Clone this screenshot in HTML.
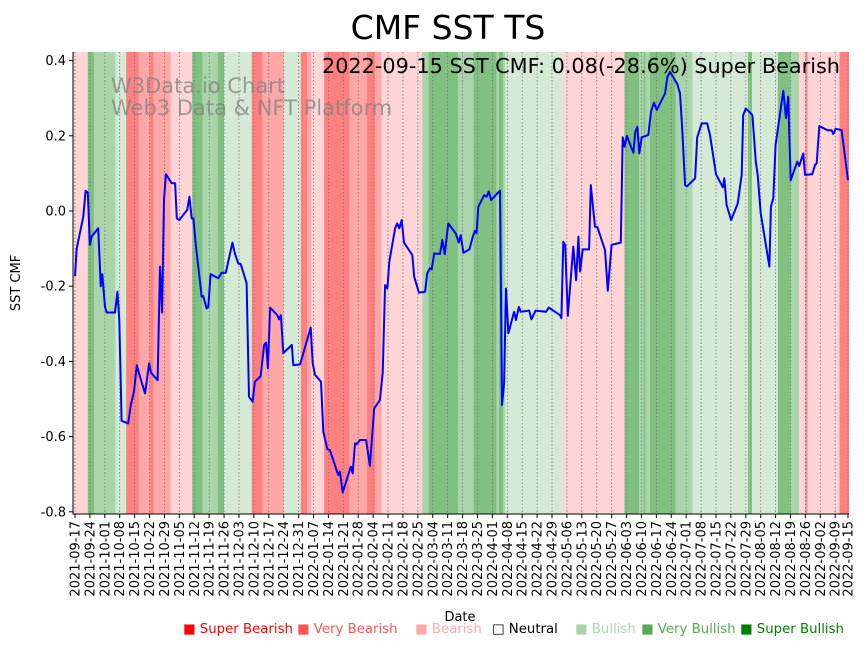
<!DOCTYPE html>
<html><head><meta charset="utf-8">
<style>
body{margin:0;background:#fff;}
svg text{font-family:"DejaVu Sans","Liberation Sans",sans-serif;}
</style></head>
<body>
<svg id="chart" width="867" height="646" viewBox="0 0 867 646" xmlns="http://www.w3.org/2000/svg">
<g id="bands"></g>
<g id="grid"></g>
<g id="line"></g>
<g id="axes"></g>
<text x="448" y="39" font-size="33" text-anchor="middle">CMF SST TS</text>
<text x="840" y="73" font-size="20.8" text-anchor="end">2022-09-15 SST CMF: 0.08(-28.6%) Super Bearish</text>
<text x="111" y="93" font-size="21" fill="#808080" fill-opacity="0.75">W3Data.io Chart</text>
<text x="111" y="115" font-size="21" fill="#808080" fill-opacity="0.75">Web3 Data &amp; NFT Platform</text>
<text x="460" y="621" font-size="13" text-anchor="middle">Date</text>
<text x="20" y="283" font-size="13" text-anchor="middle" transform="rotate(-90 20 283)">SST CMF</text>
<g font-size="13.3">
<text x="183" y="633" fill="#ff0000">■ Super Bearish</text>
<text x="297" y="633" fill="#ff5555">■ Very Bearish</text>
<text x="415" y="633" fill="#ffaaaa">■ Bearish</text>
<text x="492" y="633" fill="#000">□ Neutral</text>
<text x="575" y="633" fill="#aad5aa">■ Bullish</text>
<text x="641" y="633" fill="#55aa55">■ Very Bullish</text>
<text x="740" y="633" fill="#008000">■ Super Bullish</text>
</g>
</svg>
<script>
// band boundaries (day offsets from 2021-09-17) and signal levels (-3..3)
const bandStarts = [-1,6,9,19,24,30,35,37,45,55,60,67,70,83,88,98,106,109,111,117,129,137,141,144,163,166,180,187,198,199,201,202,229,258,265,267,268,270,282,290,316,318,330,336,340,343,344,359];
const bandLevels = [-1,3,2,1,-3,-2,-3,-2,-1,3,2,3,1,-3,-2,1,-3,-2,-1,-3,-2,-3,-2,-1,2,3,2,3,2,3,2,1,-1,3,2,3,2,3,2,1,3,1,3,2,-1,-3,-1,-3];
const bandEnd = 363.5;
// series: day offsets and CMF values
const days = [0,0.8,3.9,5.0,6.0,7.0,7.8,10.9,12.1,12.8,14.1,14.9,18.8,19.9,20.8,21.9,25.0,26.2,27.7,29.0,31.0,32.9,34.8,35.7,38.8,39.9,40.9,41.8,42.7,45.4,47.0,47.8,49.0,52.7,53.7,54.8,55.6,56.8,59.5,60.2,61.8,62.6,63.7,67.3,68.9,70.8,73.9,75.1,76.7,77.8,80.6,81.7,83.4,84.5,87.2,88.8,89.7,90.6,91.6,95.0,95.8,96.7,97.8,101.8,102.5,105.7,110.7,111.6,112.7,115.5,116.6,118.5,119.7,123.6,124.4,125.7,129.5,130.4,131.5,132.3,133.8,136.7,138.5,140.5,143.2,144.5,145.6,146.7,147.6,150.3,151.3,152.3,153.4,154.5,158.4,159.3,161.5,164.4,165.4,166.7,167.5,168.7,171.4,172.5,173.6,175.3,178.9,180.2,181.1,182.4,185.2,186.8,187.8,188.6,189.4,192.1,193.3,194.3,195.4,199.6,200.5,201.5,202.4,203.5,206.2,207.1,208.4,209.3,213.3,214.3,216.3,221.2,222.5,227.8,228.4,229.3,230.2,231.4,234.0,235.3,236.4,237.2,238.4,241.4,242.2,244.2,245.3,248.9,250.2,252.0,256.3,257.2,258.1,259.1,262.2,263.1,264.1,265.0,266.1,269.2,270.5,271.9,273.2,277.1,278.2,279.4,282.8,284.1,285.2,286.5,287.5,291.2,292.2,294.3,296.9,298.2,301.0,304.2,304.9,306.0,308.1,311.2,313.1,313.8,315.0,318.1,319.7,320.6,322.0,326.1,326.8,327.9,329.0,332.6,333.9,334.9,336.1,339.2,340.1,342.0,342.8,346.2,347.5,348.3,349.5,353.3,355.3,356.1,357.2,360.0,360.8,363];
const values = [-0.173,-0.10,-0.015,0.054,0.049,-0.09,-0.068,-0.046,-0.20,-0.168,-0.255,-0.27,-0.27,-0.215,-0.29,-0.558,-0.565,-0.516,-0.48,-0.41,-0.45,-0.485,-0.405,-0.43,-0.45,-0.148,-0.27,0.03,0.098,0.074,0.074,-0.02,-0.024,0.003,0.038,-0.02,-0.02,-0.095,-0.228,-0.226,-0.259,-0.255,-0.168,-0.179,-0.164,-0.164,-0.084,-0.113,-0.14,-0.141,-0.192,-0.494,-0.507,-0.454,-0.439,-0.356,-0.35,-0.418,-0.257,-0.277,-0.288,-0.277,-0.378,-0.356,-0.41,-0.408,-0.31,-0.405,-0.436,-0.454,-0.587,-0.633,-0.636,-0.702,-0.693,-0.749,-0.68,-0.698,-0.618,-0.62,-0.609,-0.609,-0.678,-0.525,-0.503,-0.432,-0.197,-0.206,-0.135,-0.046,-0.033,-0.046,-0.024,-0.084,-0.117,-0.175,-0.217,-0.215,-0.166,-0.152,-0.155,-0.113,-0.114,-0.077,-0.115,-0.033,-0.061,-0.084,-0.064,-0.111,-0.102,-0.068,-0.053,-0.059,0.011,0.042,0.038,0.052,0.029,0.054,-0.516,-0.458,-0.206,-0.325,-0.268,-0.29,-0.255,-0.268,-0.265,-0.288,-0.265,-0.268,-0.257,-0.277,-0.285,-0.082,-0.09,-0.279,-0.095,-0.184,-0.068,-0.161,-0.102,-0.102,0.069,-0.042,-0.043,-0.104,-0.212,-0.09,-0.084,0.196,0.171,0.2,0.155,0.211,0.224,0.153,0.196,0.202,0.264,0.288,0.269,0.313,0.357,0.37,0.338,0.313,0.215,0.069,0.066,0.087,0.196,0.233,0.233,0.202,0.098,0.063,0.087,0.016,-0.024,0.02,0.096,0.255,0.273,0.255,0.131,0.096,-0.006,-0.148,0.011,0.034,0.176,0.32,0.247,0.304,0.082,0.131,0.12,0.153,0.096,0.098,0.122,0.127,0.226,0.215,0.215,0.205,0.219,0.215,0.18,0.082];
const yTicks = [0.4,0.2,0.0,-0.2,-0.4,-0.6,-0.8];
const xTickDays = [0,7,14,21,28,35,42,49,56,63,70,77,84,91,98,105,112,119,126,133,140,147,154,161,168,175,182,189,196,203,210,217,224,231,238,245,252,259,266,273,280,287,294,301,308,315,322,329,336,343,350,357,363];

const NS='http://www.w3.org/2000/svg';
const X0=73, X1=849, Y0=52, Y1=514;
const xs = d => 75 + d*2.1295;
const ys = v => 211 - v*376;
function mk(tag, attrs, parent){const e=document.createElementNS(NS,tag);for(const k in attrs)e.setAttribute(k,attrs[k]);parent.appendChild(e);return e;}
const colors={'-3':'#ff8080','-2':'#ffa6a6','-1':'#ffd5d5','0':'#ffffff','1':'#d5ead5','2':'#aad5aa','3':'#80c080'};
const gB=document.getElementById('bands');
for(let i=0;i<bandStarts.length;i++){
  const a=Math.max(X0,xs(bandStarts[i])), b=Math.min(X1,xs(i+1<bandStarts.length?bandStarts[i+1]:bandEnd));
  const r=mk('rect',{x:a,y:Y0,width:Math.max(0,b-a),height:Y1-Y0,fill:colors[bandLevels[i]]},gB);
  
  
}
const gG=document.getElementById('grid'), gA=document.getElementById('axes');
const start=new Date(Date.UTC(2021,8,17));
xTickDays.forEach(d=>{
  const x=xs(d);
  const l=mk('line',{x1:x,x2:x,y1:Y0,y2:Y1,stroke:'#777','stroke-width':0.8,'stroke-dasharray':'1.5,2'},gG);
  
  
  mk('line',{x1:x,x2:x,y1:Y1,y2:Y1+4,stroke:'#000','stroke-width':1},gA);
  const dt=new Date(start.getTime()+d*86400000);
  const s=dt.toISOString().slice(0,10);
  const t=mk('text',{x:0,y:0,'font-size':13,'text-anchor':'end',transform:`translate(${x+4.5},${Y1+7}) rotate(-90)`},gA);
  
  
  t.textContent=s;
});
yTicks.forEach(v=>{
  const y=ys(v);
  mk('line',{x1:X0-4,x2:X0,y1:y,y2:y,stroke:'#000','stroke-width':1},gA);
  const t=mk('text',{x:X0-7,y:y+4.5,'font-size':13,'text-anchor':'end'},gA);
  
  
  t.textContent=v.toFixed(1);
});
const ax=mk('path',{d:`M${X0},${Y0}V${Y1}H${X1}`,fill:'none',stroke:'#000','stroke-width':1},gA);


const pts=days.map((d,i)=>xs(d).toFixed(1)+','+ys(values[i]).toFixed(1)).join(' ');
const pl=mk('polyline',{points:pts,fill:'none',stroke:'#0000ff','stroke-width':2,'stroke-linejoin':'round'},document.getElementById('line'));


</script>
</body></html>
